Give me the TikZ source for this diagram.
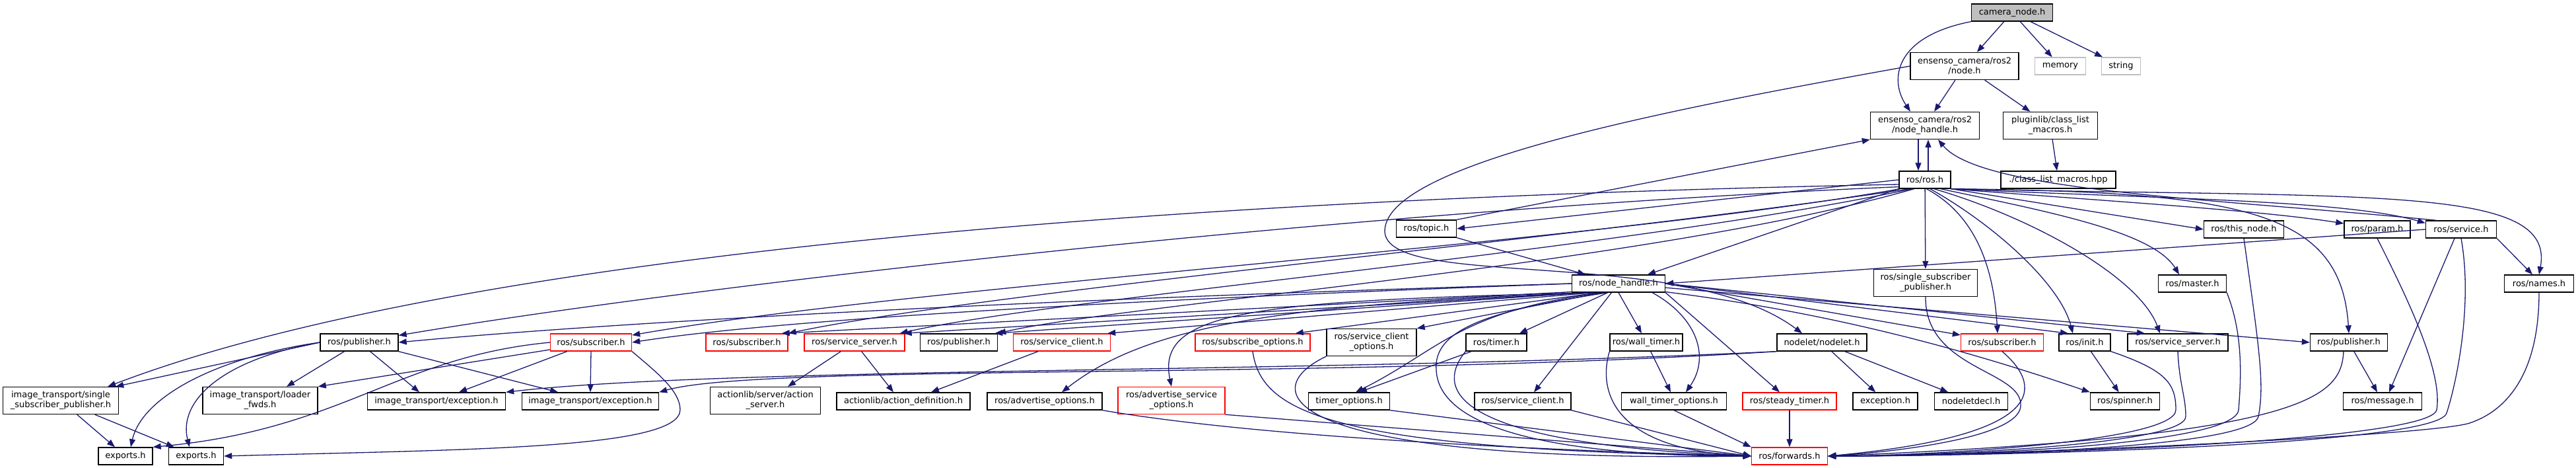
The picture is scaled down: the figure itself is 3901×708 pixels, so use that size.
\documentclass[tikz,border=0pt]{standalone}
\usepackage{fontspec}
\setmainfont{DejaVu Sans}
\usetikzlibrary{arrows.meta}
\definecolor{linkblue}{HTML}{191970}
\definecolor{sysgrey}{HTML}{BFBFBF}

\begin{document}
\begin{tikzpicture}[x=1pt, y=-1pt,
  hdr/.style={draw, line width=1.4pt, fill=white, inner sep=0pt, minimum height=26pt, align=center, font=\fontsize{13}{15}\selectfont},
  hdrtwo/.style={hdr, minimum height=41pt},
  trunc/.style={draw=red},
  sysh/.style={draw=sysgrey},
  incl/.style={linkblue, line width=1.3pt, -{Triangle[length=12pt,width=9pt]}}]
\useasboundingbox (0,0) rectangle (3901,708);

% top of the graph
\node[hdr, fill=sysgrey, minimum width=123pt] (cam) at (3047,19) {camera\_node.h};
\node[hdrtwo, minimum width=164pt] (node2) at (2975,100) {ensenso\_camera/ros2\\/node.h};
\node[hdr, sysh, minimum width=77pt] (mem) at (3120,100) {memory};
\node[hdr, sysh, minimum width=59pt] (str) at (3212,100) {string};
\node[hdrtwo, minimum width=165pt] (nh2) at (2915,190) {ensenso\_camera/ros2\\/node\_handle.h};
\node[hdrtwo, minimum width=143pt] (plug) at (3105,190) {pluginlib/class\_list\\\_macros.h};
\node[hdr, minimum width=78pt] (rosh) at (2915,272) {ros/ros.h};
\node[hdr, minimum width=174pt] (clhpp) at (3117,272) {./class\_list\_macros.hpp};

% ros headers
\node[hdr, minimum width=91pt] (topic) at (2160,346) {ros/topic.h};
\node[hdr, minimum width=121pt] (thisnode) at (3398,347) {ros/this\_node.h};
\node[hdr, minimum width=100pt] (param) at (3600,347) {ros/param.h};
\node[hdr, minimum width=107pt] (service) at (3727,347) {ros/service.h};
\node[hdr, minimum width=141pt] (nh) at (2451,429) {ros/node\_handle.h};
\node[hdrtwo, minimum width=157pt] (ssp) at (2916,428) {ros/single\_subscriber\\\_publisher.h};
\node[hdr, minimum width=103pt] (master) at (3320,429) {ros/master.h};
\node[hdr, minimum width=105pt] (names) at (3845,429) {ros/names.h};

% row 1
\node[hdr, minimum width=118pt] (pubL) at (544,518) {ros/publisher.h};
\node[hdr, trunc, minimum width=123pt] (subL) at (895,518) {ros/subscriber.h};
\node[hdr, trunc, minimum width=124pt] (subA) at (1131,518) {ros/subscriber.h};
\node[hdr, trunc, minimum width=152pt] (ssrvA) at (1294,518) {ros/service\_server.h};
\node[hdr, minimum width=117pt] (pubA) at (1452,518) {ros/publisher.h};
\node[hdr, trunc, minimum width=147pt] (sclA) at (1608,518) {ros/service\_client.h};
\node[hdr, trunc, minimum width=174pt] (subopts) at (1897,518) {ros/subscribe\_options.h};
\node[hdrtwo, minimum width=136pt] (scopts) at (2077,518) {ros/service\_client\\\_options.h};
\node[hdr, minimum width=92pt] (timer) at (2266,518) {ros/timer.h};
\node[hdr, minimum width=110pt] (wtimer) at (2493,518) {ros/wall\_timer.h};
\node[hdr, minimum width=136pt] (nodelet) at (2759,518) {nodelet/nodelet.h};
\node[hdr, trunc, minimum width=125pt] (subR) at (3032,518) {ros/subscriber.h};
\node[hdr, minimum width=78pt] (init) at (3157,518) {ros/init.h};
\node[hdr, minimum width=152pt] (ssrvR) at (3298,518) {ros/service\_server.h};
\node[hdr, minimum width=117pt] (pubR) at (3557,518) {ros/publisher.h};

% row 2
\node[hdrtwo, minimum width=175pt] (itssp) at (92,606) {image\_transport/single\\\_subscriber\_publisher.h};
\node[hdrtwo, minimum width=174pt] (loader) at (394,606) {image\_transport/loader\\\_fwds.h};
\node[hdr, minimum width=209pt] (excA) at (661,607) {image\_transport/exception.h};
\node[hdr, minimum width=207pt] (excB) at (894,607) {image\_transport/exception.h};
\node[hdrtwo, minimum width=167pt] (aserver) at (1159,606) {actionlib/server/action\\\_server.h};
\node[hdr, minimum width=202pt] (adef) at (1368,607) {actionlib/action\_definition.h};
\node[hdr, minimum width=174pt] (advopts) at (1582,607) {ros/advertise\_options.h};
\node[hdrtwo, trunc, minimum width=162pt] (advsrv) at (1774,606) {ros/advertise\_service\\\_options.h};
\node[hdr, minimum width=123pt] (timeropts) at (2043,607) {timer\_options.h};
\node[hdr, minimum width=146pt] (sclB) at (2306,607) {ros/service\_client.h};
\node[hdr, minimum width=159pt] (wtopts) at (2535,607) {wall\_timer\_options.h};
\node[hdr, trunc, minimum width=142pt] (steady) at (2710,607) {ros/steady\_timer.h};
\node[hdr, minimum width=98pt] (exception) at (2855,607) {exception.h};
\node[hdr, minimum width=111pt] (nldecl) at (2985,607) {nodeletdecl.h};
\node[hdr, minimum width=105pt] (spinner) at (3218,607) {ros/spinner.h};
\node[hdr, minimum width=119pt] (message) at (3608,607) {ros/message.h};

% bottom row
\node[hdr, minimum width=82pt] (expA) at (190,690) {exports.h};
\node[hdr, minimum width=83pt] (expB) at (297,690) {exports.h};
\node[hdr, trunc, minimum width=115pt] (fwd) at (2710,690) {ros/forwards.h};

% camera_node.h and ensenso headers
\draw[incl] (cam) -- (node2);
\draw[incl] (cam) -- (mem);
\draw[incl] (cam) -- (str);
\draw[incl] (cam.south west) .. controls (2870,55) and (2860,120) .. ([xshift=-22pt]nh2.north);
\draw[incl] (node2) -- (nh2);
\draw[incl] (node2) -- (plug);
\draw[incl] (node2.west) .. controls (2500,170) and (2097,250) .. (2097,350) .. controls (2100,440) and (2550,370) .. ([xshift=-30pt]nodelet.north);
\draw[incl] (plug) -- (clhpp);
\draw[incl] ([xshift=-10pt]nh2.south) -- ([xshift=-10pt]rosh.north);
\draw[incl] ([xshift=5pt]rosh.north) -- ([xshift=5pt]nh2.south);
\draw[incl] (topic.north east) -- (nh2.south west);
\draw[incl] (service.160) .. controls (3350,300) and (3000,290) .. ([xshift=20pt]nh2.south);

% ros/ros.h
\draw[incl] (rosh.west) -- (topic.east);
\draw[incl] (rosh) -- ([xshift=44pt]nh.north);
\draw[incl] (rosh) -- (ssp);
\draw[incl] (rosh.south east) -- (thisnode.west);
\draw[incl] (rosh.south east) .. controls (3200,305) and (3420,318) .. (param.170);
\draw[incl] (rosh.south east) .. controls (3250,300) and (3550,302) .. (service.170);
\draw[incl] (rosh.south east) .. controls (3600,300) and (3870,280) .. (names.north);
\draw[incl] (rosh.-30) .. controls (3100,320) and (3260,350) .. ([xshift=-20pt]master.north);
\draw[incl] (rosh.-80) .. controls (3000,330) and (3020,420) .. ([xshift=-7pt]subR.north);
\draw[incl] (rosh.-60) .. controls (3020,340) and (3120,430) .. ([xshift=-18pt]init.north);
\draw[incl] (rosh.-45) .. controls (3080,330) and (3240,420) .. ([xshift=-27pt]ssrvR.north);
\draw[incl] (rosh.south east) .. controls (3400,290) and (3545,320) .. (pubR.north);
\draw[incl] (rosh.190) .. controls (1800,300) and (700,380) .. ([xshift=-17pt]itssp.north east);
\draw[incl] (rosh.195) .. controls (2000,320) and (1000,440) .. (pubL.10);
\draw[incl] (rosh.200) .. controls (2400,370) and (1400,430) .. (subL.10);
\draw[incl] (rosh.210) .. controls (2400,360) and (1500,440) .. (subA.north east);
\draw[incl] (rosh.215) .. controls (2450,380) and (1600,450) .. ([xshift=-8pt]ssrvA.north east);
\draw[incl] (rosh.220) .. controls (2500,400) and (1700,460) .. (pubA.north east);
\draw[incl] (topic.south east) -- ([xshift=-50pt]nh.north);
\draw[incl] (service.west) -- (nh.east);

% ros/node_handle.h
\draw[incl] (nh.west) .. controls (1500,455) and (900,490) .. (pubL.east);
\draw[incl] (nh.west) .. controls (1800,450) and (1200,480) .. (subL.east);
\draw[incl] (nh.190) -- ([xshift=-10pt]subA.north east);
\draw[incl] (nh.195) -- ([xshift=-2pt]ssrvA.north east);
\draw[incl] (nh.195) -- ([xshift=-5pt]pubA.north east);
\draw[incl] (nh.200) -- ([xshift=-5pt]sclA.north east);
\draw[incl] (nh.205) -- ([xshift=-23pt]subopts.north east);
\draw[incl] (nh.210) -- (scopts.north east);
\draw[incl] (nh.220) -- ([xshift=35pt]timer.north);
\draw[incl] (nh.south) -- ([xshift=-7pt]wtimer.north);
\draw[incl] (nh.200) .. controls (1950,460) and (1740,490) .. ([xshift=26pt]advopts.north);
\draw[incl] (nh.200) .. controls (1900,455) and (1750,470) .. (advsrv.north);
\draw[incl] (nh.210) .. controls (2210,470) and (2180,530) .. ([xshift=10pt]timeropts.north);
\draw[incl] (nh) -- ([xshift=17pt]sclB.north);
\draw[incl] (nh.-15) .. controls (2570,480) and (2590,540) .. ([xshift=18pt]wtopts.north);
\draw[incl] (nh.south east) -- ([xshift=-15pt]steady.north);
\draw[incl] (nh.220) .. controls (2250,470) and (2170,500) .. (2175,560) .. controls (2180,660) and (2400,690) .. (fwd.west);
\draw[incl] (nh.east) -- (subR.170);
\draw[incl] (nh.east) -- ([xshift=-25pt]init.north);
\draw[incl] (nh.east) -- ([xshift=-50pt]ssrvR.north);
\draw[incl] (nh.-5) -- (pubR.west);
\draw[incl] (nh.-10) .. controls (2750,470) and (2950,520) .. (spinner.north west);

% nodelet/nodelet.h
\draw[incl] (nodelet) -- (exception);
\draw[incl] (nodelet) -- (nldecl);
\draw[incl] (nodelet.south west) .. controls (2000,565) and (1100,555) .. (excA.north east);
\draw[incl] (nodelet.south west) .. controls (2000,575) and (1150,550) .. (excB.north east);

% image_transport side
\draw[incl] (pubL.west) -- ([xshift=-5pt]itssp.north east);
\draw[incl] (pubL.west) .. controls (330,540) and (215,600) .. ([xshift=8pt]expA.north);
\draw[incl] (pubL.west) .. controls (330,545) and (270,610) .. ([xshift=-10pt]expB.north);
\draw[incl] (pubL) -- ([xshift=40pt]loader.north);
\draw[incl] (pubL) -- ([xshift=-26pt]excA.north);
\draw[incl] (pubL.south east) -- ([xshift=-49pt]excB.north);
\draw[incl] (itssp) -- (expA);
\draw[incl] (itssp) -- (expB);
\draw[incl] (subL.west) .. controls (600,540) and (520,650) .. (expA.north east);
\draw[incl] (subL.190) -- (loader.north east);
\draw[incl] (subL) -- ([xshift=34pt]excA.north);
\draw[incl] (subL.south) -- (excB.north);
\draw[incl] (subL.south east) .. controls (990,560) and (1030,590) .. (1030,620) .. controls (1030,680) and (700,680) .. (expB.east);

% actionlib and timers
\draw[incl] (ssrvA) -- ([xshift=34pt]aserver.north);
\draw[incl] (ssrvA) -- ([xshift=-15pt]adef.north);
\draw[incl] (sclA) -- ([xshift=42pt]adef.north);
\draw[incl] (timer) -- ([xshift=15pt]timeropts.north);
\draw[incl] (wtimer) -- ([xshift=-5pt]wtopts.north);
\draw[incl] (init) -- (spinner);
\draw[incl] ([xshift=-10pt]service.south) -- ([xshift=10pt]message.north);
\draw[incl] (service.south east) -- ([xshift=-10pt]names.north);
\draw[incl] (pubR) -- ([xshift=-8pt]message.north);

% into ros/forwards.h
\draw[incl] (subopts.south) .. controls (1910,620) and (2000,680) .. (fwd.west);
\draw[incl] (scopts.south west) .. controls (1900,590) and (1930,700) .. (fwd.west);
\draw[incl] (advopts.south east) .. controls (1900,660) and (2300,680) .. (fwd.west);
\draw[incl] (advsrv.south east) -- (fwd.west);
\draw[incl] (timeropts.south east) -- (fwd.west);
\draw[incl] (timer.south west) .. controls (2180,580) and (2170,670) .. (fwd.west);
\draw[incl] (sclB.south east) -- (fwd.west);
\draw[incl] (wtimer.south west) .. controls (2420,590) and (2440,680) .. (fwd.west);
\draw[incl] (wtopts.south) -- (fwd.north west);
\draw[incl] (steady) -- (fwd);
\draw[incl] (ssp.south) .. controls (2915,560) and (3065,560) .. (3060,615) .. controls (3055,665) and (2850,685) .. (fwd.east);
\draw[incl] (subR.south) .. controls (3100,590) and (3090,660) .. (fwd.east);
\draw[incl] (init.south east) .. controls (3280,560) and (3295,580) .. (3295,620) .. controls (3295,670) and (2900,690) .. (fwd.east);
\draw[incl] (ssrvR.south) .. controls (3300,580) and (3310,600) .. (3310,630) .. controls (3310,675) and (2900,690) .. (fwd.east);
\draw[incl] (master.south east) .. controls (3395,500) and (3395,560) .. (3390,620) .. controls (3385,675) and (2950,690) .. (fwd.east);
\draw[incl] (thisnode.south) .. controls (3420,520) and (3430,580) .. (3420,630) .. controls (3410,680) and (2950,690) .. (fwd.east);
\draw[incl] ([xshift=-8pt]pubR.south) .. controls (3545,600) and (3500,660) .. (fwd.east);
\draw[incl] (param.south) .. controls (3640,440) and (3700,560) .. (3690,620) .. controls (3680,670) and (3000,690) .. (fwd.east);
\draw[incl] (service.south) .. controls (3745,460) and (3720,580) .. (3705,625) .. controls (3690,675) and (3000,690) .. (fwd.east);
\draw[incl] (names.south) .. controls (3845,560) and (3800,620) .. (3740,640) .. controls (3680,660) and (3000,690) .. (fwd.east);
\end{tikzpicture}
\end{document}
